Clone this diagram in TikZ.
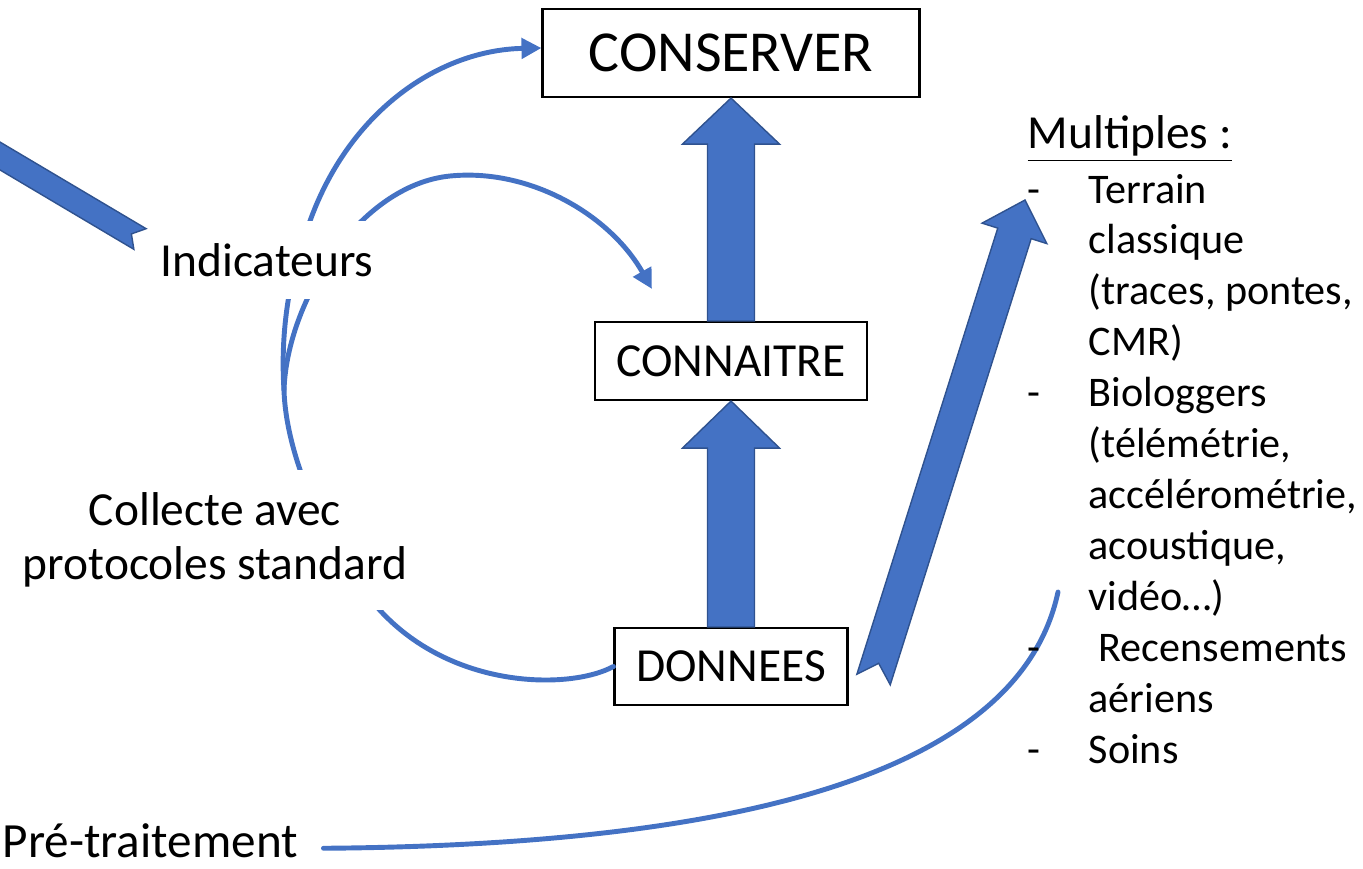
\documentclass[tikz,border=0pt]{standalone}
\usepackage{fontspec}
\setmainfont{Carlito}
\usetikzlibrary{calc,arrows.meta}
\definecolor{arrowblue}{HTML}{4472C4}
\definecolor{arrowedge}{HTML}{2F528F}

\begin{document}
\begin{tikzpicture}[
            box/.style = {draw, line width=0.6pt, fill=white, inner sep=0pt, font=\fontsize{13.5}{16}\selectfont},
            plaintext/.style = {fill=white, inner sep=0pt, font=\fontsize{13.5}{15.4}\selectfont},
            flow/.style = {draw=arrowblue, line width=1.4pt, line cap=round},
            flowhead/.style = {flow, -{Triangle[length=2mm,width=2mm]}},
            blockarrow/.style = {fill=arrowblue, draw=arrowedge, line width=0.4pt, line join=miter}
            ]
            \useasboundingbox (0,0) rectangle (13.63,-8.68);
            \clip (0,0) rectangle (13.63,-8.68);
            \node[box, minimum width=3.77cm, minimum height=0.88cm, font=\fontsize{16.5}{20}\selectfont] (conserver) at (7.31,-0.53) {CONSERVER};
            \node[box, minimum width=2.72cm, minimum height=0.78cm] (connaitre) at (7.31,-3.61) {CONNAITRE};
            \node[box, minimum width=2.33cm, minimum height=0.77cm] (donnees) at (7.31,-6.665) {DONNEES};
            \coordinate (dtail) at ($(donnees.east)+(0.25,-0.13)$);
            \coordinate (dtip) at (10.25,-2.00);
            \coordinate (ltail) at (1.40,-2.39);
            \coordinate (ltip) at (-1.18,-0.86);
            \coordinate (ctarget) at ($(connaitre.north west)+(0.58,0.32)$);
            \coordinate (split) at (2.84,-3.90);
            \coordinate (listend) at (10.58,-5.92);
            \foreach \ta/\tb/\sw/\hw/\hl/\nd in {connaitre.north/conserver.south/0.235cm/0.485cm/0.46cm/0cm,
                    donnees.north/connaitre.south/0.235cm/0.485cm/0.47cm/0cm,
                    dtail/dtip/0.175cm/0.34cm/0.35cm/0.17cm,
                    ltail/ltip/0.12cm/0.25cm/0.30cm/0.10cm}{
                \path ($(\tb)!\hl!(\ta)$) coordinate (hb) ($(\ta)!\nd!(\tb)$) coordinate (nt);
                \draw[blockarrow] ($(\ta)!\sw!90:(\tb)$) -- ($(hb)!\sw!90:(\tb)$) -- ($(hb)!\hw!90:(\tb)$) -- (\tb)
                    -- ($(hb)!\hw!-90:(\tb)$) -- ($(hb)!\sw!-90:(\tb)$) -- ($(\ta)!\sw!-90:(\tb)$) -- (nt) -- cycle;
            }
            \draw[flow] (donnees.west) .. controls (5.70,-6.90) and (4.50,-6.90) .. (3.77,-6.07)
                .. controls (3.30,-5.53) and (2.86,-4.60) .. (split);
            \draw[flowhead] (split) .. controls (2.80,-3.30) and (2.90,-2.70) .. (3.10,-2.21)
                .. controls (3.50,-1.10) and (4.40,-0.50) .. ([yshift=0.05cm]conserver.west);
            \draw[flowhead] (split) .. controls (2.87,-3.00) and (3.60,-1.85) .. (4.50,-1.76)
                .. controls (5.30,-1.68) and (6.10,-2.15) .. (ctarget);
            \node[plaintext, minimum height=0.78cm, inner xsep=0.08cm] (indic) at (2.67,-2.60) {Indicateurs};
            \node[plaintext, align=center, minimum height=1.40cm, inner xsep=0.08cm] (collecte) at (2.15,-5.40) {Collecte avec\\protocoles standard};
            \node[plaintext, anchor=base west, font=\fontsize{14}{16}\selectfont] (pre) at (0.02,-8.57) {Pré-traitement};
            \draw[flow] ([xshift=0.25cm,yshift=-0.08cm]pre.east) .. controls (7.50,-8.45) and (10.20,-7.70) .. (listend);
            \node[anchor=base west, inner sep=0pt, font=\fontsize{13.5}{16}\selectfont] (multiples) at (10.27,-1.48) {\underline{Multiples :}};
            \node[anchor=base west, inner sep=0pt, font=\fontsize{12}{14.5}\selectfont] (liste) at (10.27,-2.03) {%
                \begin{tabular}[t]{@{}p{0.61cm}@{}l@{}}
                - & Terrain\\
                  & classique\\
                  & (traces, pontes,\\
                  & CMR)\\
                - & Biologgers\\
                  & (télémétrie,\\
                  & accélérométrie,\\
                  & acoustique,\\
                  & vidéo…)\\
                - & \hspace{0.1cm}Recensements\\
                  & aériens\\
                - & Soins
                \end{tabular}};
        \end{tikzpicture}
\end{document}
